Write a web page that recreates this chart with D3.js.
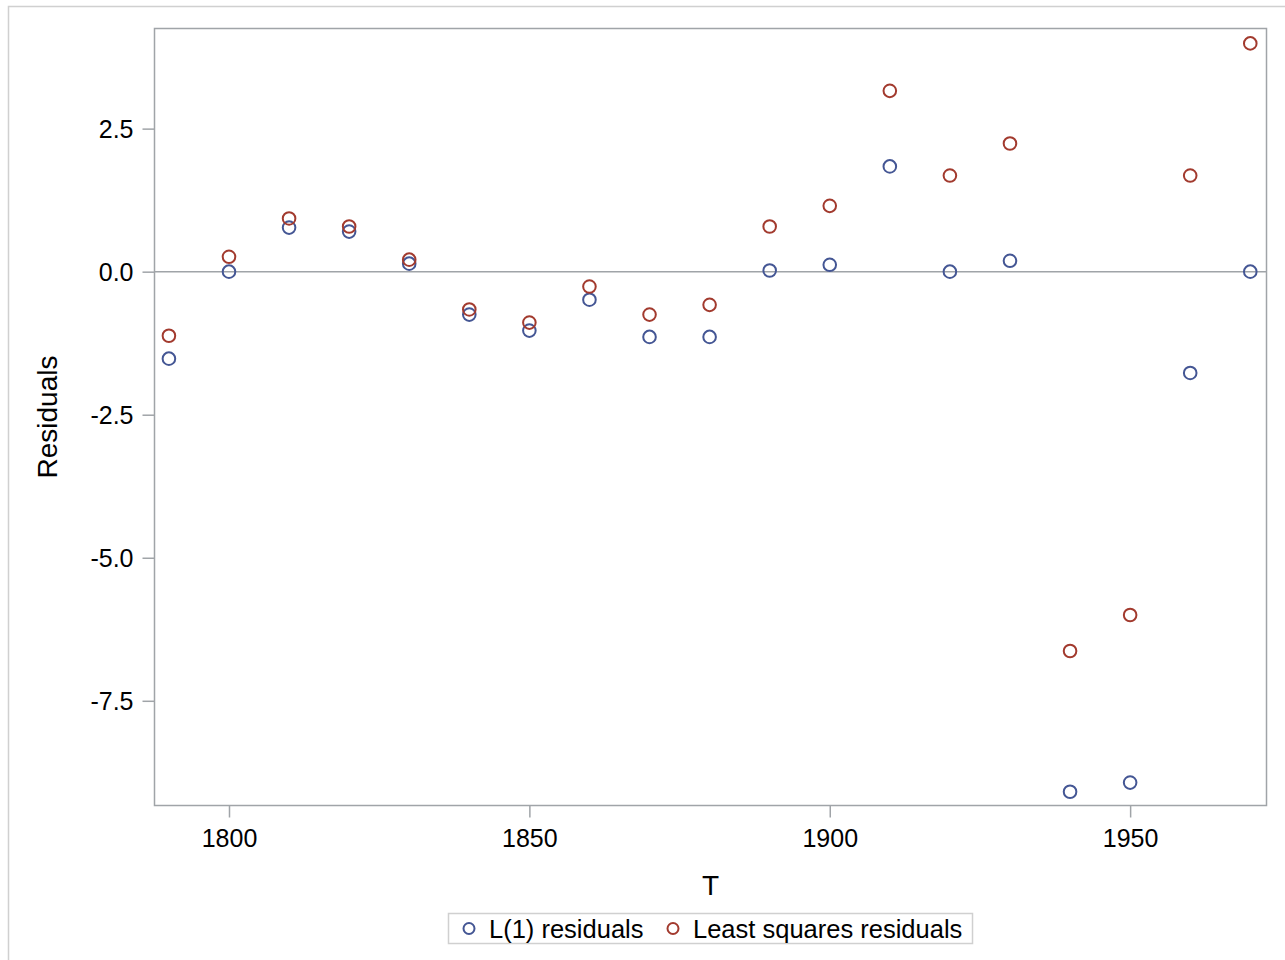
<!DOCTYPE html>
<html>
<head>
<meta charset="utf-8">
<script src="https://cdn.jsdelivr.net/npm/d3@7"></script>
<style>
  body { margin: 0; background: #fff; }
  text { font-family: "Liberation Sans", Arial, sans-serif; fill: #000; }
</style>
</head>
<body>
<div id="chart"></div>
<script>
// data
const years = [1790, 1800, 1810, 1820, 1830, 1840, 1850, 1860, 1870, 1880,
               1890, 1900, 1910, 1920, 1930, 1940, 1950, 1960, 1970];
const l1Resid = [-1.52, 0, 0.77, 0.70, 0.14, -0.75, -1.03, -0.49, -1.14, -1.14,
                 0.02, 0.12, 1.84, 0, 0.19, -9.09, -8.93, -1.77, 0];
const lsResid = [-1.12, 0.26, 0.93, 0.79, 0.21, -0.66, -0.89, -0.26, -0.75, -0.58,
                 0.79, 1.15, 3.16, 1.68, 2.24, -6.63, -6.00, 1.68, 3.99];
const xTicks = [1800, 1850, 1900, 1950];
const yTicks = [2.5, 0, -2.5, -5, -7.5];
const seriesNames = ["L(1) residuals", "Least squares residuals"];
const seriesColors = ["#445694", "#A23A2E"];

const W = 1285, H = 960;
const plotL = 154.5, plotT = 28.5, plotR = 1266.5, plotB = 805.5;

const svg = d3.select("#chart").append("svg")
  .attr("width", W).attr("height", H);

// outer frame
svg.append("rect")
  .attr("x", 8.5).attr("y", 6.5)
  .attr("width", W).attr("height", H)
  .attr("fill", "none").attr("stroke", "#d0d0d0").attr("stroke-width", 1.5);

const x = d3.scaleLinear().domain([1787.6, 1972.7]).range([plotL, plotR]);
const y = d3.scaleLinear().domain([-9.33, 4.25]).range([plotB, plotT]);

const axisColor = "#a0a4a8";

// reference line at 0
svg.append("line")
  .attr("x1", plotL).attr("x2", plotR)
  .attr("y1", y(0)).attr("y2", y(0))
  .attr("stroke", axisColor).attr("stroke-width", 1.5);

// axes
const fmtY = d => d3.format(".1f")(d).replace("\u2212", "-");
const xAxis = svg.append("g")
  .attr("transform", `translate(0,${plotB})`)
  .call(d3.axisBottom(x).tickValues(xTicks).tickFormat(d3.format("d")).tickSize(12).tickPadding(12));
const yAxis = svg.append("g")
  .attr("transform", `translate(${plotL},0)`)
  .call(d3.axisLeft(y).tickValues(yTicks).tickFormat(fmtY).tickSize(12).tickPadding(9));

[xAxis, yAxis].forEach(g => {
  g.select(".domain").remove();
  g.selectAll("line").attr("stroke", axisColor).attr("stroke-width", 1.5);
  g.selectAll("text").style("font-size", "25px")
    .style("font-family", '"Liberation Sans", Arial, sans-serif').attr("fill", "#000");
});
yAxis.selectAll("text").attr("dy", "0.36em");

// plot frame
svg.append("rect")
  .attr("x", plotL).attr("y", plotT)
  .attr("width", plotR - plotL).attr("height", plotB - plotT)
  .attr("fill", "none").attr("stroke", axisColor).attr("stroke-width", 1.5);

// points
const series = [l1Resid, lsResid];
series.forEach((vals, s) => {
  svg.append("g").selectAll("circle")
    .data(vals.map((v, i) => ({ t: years[i], r: v })))
    .join("circle")
    .attr("cx", d => x(d.t))
    .attr("cy", d => y(d.r))
    .attr("r", 6.3)
    .attr("fill", "none")
    .attr("stroke", seriesColors[s])
    .attr("stroke-width", 2);
});

// axis titles
svg.append("text")
  .attr("x", (plotL + plotR) / 2).attr("y", 895)
  .attr("text-anchor", "middle").style("font-size", "28px").text("T");
svg.append("text")
  .attr("transform", `translate(57,${(plotT + plotB) / 2}) rotate(-90)`)
  .attr("text-anchor", "middle").style("font-size", "28px").text("Residuals");

// legend
const leg = svg.append("g");
leg.append("rect")
  .attr("x", 448.5).attr("y", 913.5).attr("width", 524).attr("height", 30)
  .attr("fill", "none").attr("stroke", "#d0d0d0").attr("stroke-width", 1.5);
const legX = [469, 673];
seriesNames.forEach((name, s) => {
  leg.append("circle")
    .attr("cx", legX[s]).attr("cy", 928.5).attr("r", 5.5)
    .attr("fill", "none").attr("stroke", seriesColors[s]).attr("stroke-width", 2);
  leg.append("text")
    .attr("x", legX[s] + 20).attr("y", 937.5)
    .style("font-size", "25.5px").text(name);
});
</script>
</body>
</html>
